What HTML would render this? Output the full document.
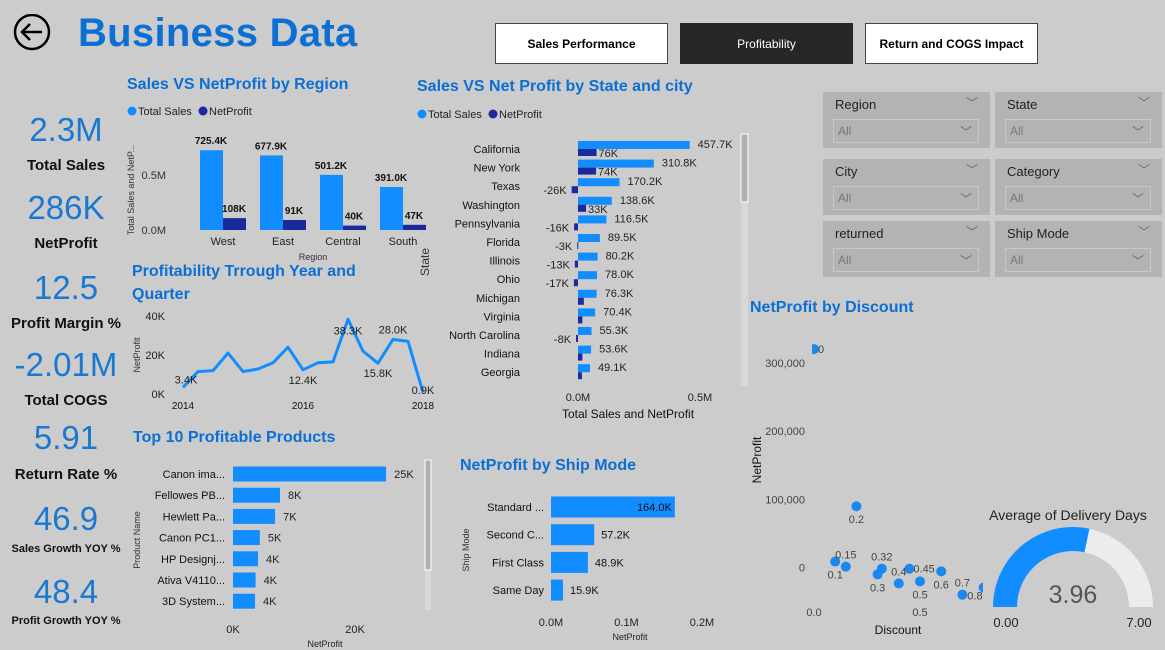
<!DOCTYPE html>
<html><head><meta charset="utf-8"><style>
body{margin:0;width:1165px;height:650px;overflow:hidden;background:#cccccc;font-family:"Liberation Sans",sans-serif;}
#root{position:relative;width:1165px;height:650px;}
.btn{position:absolute;top:23px;width:173px;height:41px;border:1px solid #444;background:#fff;font-size:12px;font-weight:bold;display:flex;align-items:center;justify-content:center;box-sizing:border-box;}
.kv{position:absolute;left:0;width:132px;text-align:center;color:#1a78d2;font-size:33px;}
.kl{position:absolute;left:0;width:132px;text-align:center;color:#111;font-weight:bold;font-size:15px;}
.sl{position:absolute;width:167px;height:56px;background:#b3b3b3;}
.sl .h{position:absolute;left:12px;top:5px;font-size:13px;color:#222;}
.sl .c1{position:absolute;right:12px;top:2px;font-size:12px;color:#666;}
.sl .box{position:absolute;left:10px;top:27px;width:146px;height:24px;border:1px solid #c8c8c8;box-sizing:border-box;}
.sl .box span{position:absolute;left:4px;top:4px;font-size:12px;color:#777;}
.sl .box i{position:absolute;right:6px;top:3px;font-style:normal;font-size:12px;color:#666;}
</style></head><body><div id="root">
<svg style="position:absolute;left:13px;top:14px" width="38" height="38"><circle cx="19" cy="18" r="17" fill="none" stroke="#000" stroke-width="2.5"/><path d="M29 18H10M17 10l-8 8 8 8" fill="none" stroke="#000" stroke-width="2.5"/></svg>
<div style="position:absolute;left:78px;top:11px;font-size:40px;font-weight:bold;color:#0b6fd4;letter-spacing:0.3px">Business Data</div>
<div class="btn" style="left:495px">Sales Performance</div>
<div class="btn" style="left:680px;background:#262626;color:#fff;font-weight:normal;border-color:#262626">Profitability</div>
<div class="btn" style="left:865px">Return and COGS Impact</div>

<div class="kv" style="top:111px">2.3M</div>
<div class="kl" style="top:157px">Total Sales</div>
<div class="kv" style="top:189px">286K</div>
<div class="kl" style="top:235px">NetProfit</div>
<div class="kv" style="top:269px">12.5</div>
<div class="kl" style="top:315px">Profit Margin %</div>
<div class="kv" style="top:346px">-2.01M</div>
<div class="kl" style="top:392px">Total COGS</div>
<div class="kv" style="top:419px">5.91</div>
<div class="kl" style="top:466px">Return Rate %</div>
<div class="kv" style="top:500px">46.9</div>
<div class="kl" style="top:543px;font-size:11px">Sales Growth YOY %</div>
<div class="kv" style="top:573px">48.4</div>
<div class="kl" style="top:615px;font-size:11px">Profit Growth YOY %</div>

<div class="sl" style="left:823px;top:92px"><span class="h">Region</span><span class="c1">﹀</span><div class="box"><span>All</span><i>﹀</i></div></div>
<div class="sl" style="left:995px;top:92px"><span class="h">State</span><span class="c1">﹀</span><div class="box"><span>All</span><i>﹀</i></div></div>
<div class="sl" style="left:823px;top:159px"><span class="h">City</span><span class="c1">﹀</span><div class="box"><span>All</span><i>﹀</i></div></div>
<div class="sl" style="left:995px;top:159px"><span class="h">Category</span><span class="c1">﹀</span><div class="box"><span>All</span><i>﹀</i></div></div>
<div class="sl" style="left:823px;top:221px"><span class="h">returned</span><span class="c1">﹀</span><div class="box"><span>All</span><i>﹀</i></div></div>
<div class="sl" style="left:995px;top:221px"><span class="h">Ship Mode</span><span class="c1">﹀</span><div class="box"><span>All</span><i>﹀</i></div></div>

<svg id="ch" style="position:absolute;left:0;top:0" width="1165" height="650" font-family="Liberation Sans, sans-serif"></svg>
</div>
<script>
// Region chart data
const regions=["West","East","Central","South"];
const regionSales=[725.4,677.9,501.2,391.0];
const regionProfit=[108,91,40,47];
const regionSalesLbl=["725.4K","677.9K","501.2K","391.0K"];
const regionProfitLbl=["108K","91K","40K","47K"];
// Line chart
const quarterProfit=[3.4,11.5,12,21,11.5,12.8,16,24,12.4,16,16.5,38.3,22,15.8,28,27,0.9];
const quarterLabels=["3.4K","","","","","","","","12.4K","","","38.3K","","15.8K","28.0K","","0.9K"];
const yearTicks=["2014","2016","2018"];
// State chart
const states=["California","New York","Texas","Washington","Pennsylvania","Florida","Illinois","Ohio","Michigan","Virginia","North Carolina","Indiana","Georgia"];
const stateSales=[457.7,310.8,170.2,138.6,116.5,89.5,80.2,78.0,76.3,70.4,55.3,53.6,49.1];
const stateProfit=[76,74,-26,33,-16,-3,-13,-17,24,18,-8,18,16];
const stateProfitShow=[1,1,1,1,1,1,1,1,0,0,1,0,0];
// Products
const products=["Canon ima...","Fellowes PB...","Hewlett Pa...","Canon PC1...","HP Designj...","Ativa V4110...","3D System..."];
const productProfit=[25.1,7.7,6.9,4.4,4.1,3.7,3.6];
const productLbl=["25K","8K","7K","5K","4K","4K","4K"];
// Ship mode
const shipModes=["Standard ...","Second C...","First Class","Same Day"];
const shipProfit=[164.0,57.2,48.9,15.9];
// Scatter
const discounts=[0,0.1,0.15,0.2,0.3,0.32,0.4,0.45,0.5,0.6,0.7,0.8];
const discProfit=[320,9,1.5,90,-9.7,-1.4,-23,-1.5,-20,-5.3,-39.5,-29];
const discLblPos=["r","b","a","b","b","a","a","r","b","b","a","l"];
// Gauge
const gaugeValue=3.96, gaugeMax=7;

const NS="http://www.w3.org/2000/svg", svg=document.getElementById('ch');
function mk(tag,a,txt,parent){const e=document.createElementNS(NS,tag);for(const k in a)e.setAttribute(k,a[k]);if(txt!==undefined)e.textContent=txt;(parent||svg).appendChild(e);return e;}
const BLUE="#118DFF",NAVY="#1a2a9c",TB="#0b6fd4";
let e;
e=mk('text',{x:127,y:89,'font-size':16,'font-weight':'bold',fill:TB},'Sales VS NetProfit by Region');


e=mk('text',{x:417,y:91,'font-size':16,'font-weight':'bold',fill:TB},'Sales VS Net Profit by State and city');


e=mk('text',{x:132,y:276,'font-size':16,'font-weight':'bold',fill:TB},'Profitability Trrough Year and');


e=mk('text',{x:132,y:299,'font-size':16,'font-weight':'bold',fill:TB},'Quarter');


e=mk('text',{x:133,y:442,'font-size':16,'font-weight':'bold',fill:TB},'Top 10 Profitable Products');


e=mk('text',{x:460,y:470,'font-size':16,'font-weight':'bold',fill:TB},'NetProfit by Ship Mode');


e=mk('text',{x:750,y:312,'font-size':16,'font-weight':'bold',fill:TB},'NetProfit by Discount');



function legend(x,y,name){
 e=mk('circle',{cx:x+4,cy:y-4,r:4.5,fill:BLUE});
 
 
 e=mk('text',{x:x+10,y:y,'font-size':11,fill:'#222'},'Total Sales');
 
 
 e=mk('circle',{cx:x+75,cy:y-4,r:4.5,fill:NAVY});
 
 
 e=mk('text',{x:x+81,y:y,'font-size':11,fill:'#222'},'NetProfit');
 
 
}
legend(128,115,'region');legend(418,118,'state');

// Region chart
const rY=v=>230-v*0.11, rX=i=>223+i*60;
[[0,'0.0M'],[500,'0.5M']].forEach(t=>{
 e=mk('text',{x:166,y:rY(t[0])+4,'font-size':11,fill:'#333','text-anchor':'end'},t[1]);
 
 
});
e=mk('text',{x:134,y:190,'font-size':9,fill:'#333','text-anchor':'middle',transform:'rotate(-90 134 190)'},'Total Sales and NetP...');


regions.forEach((r,i)=>{
 const cx=rX(i);
 e=mk('rect',{x:cx-23,y:rY(regionSales[i]),width:23,height:230-rY(regionSales[i]),fill:BLUE});
 
 
 e=mk('rect',{x:cx,y:rY(regionProfit[i]),width:23,height:230-rY(regionProfit[i]),fill:NAVY});
 
 
 e=mk('text',{x:cx-12,y:rY(regionSales[i])-6,'font-size':10,'font-weight':'bold',fill:'#111','text-anchor':'middle'},regionSalesLbl[i]);
 
 
 e=mk('text',{x:cx+11,y:rY(regionProfit[i])-6,'font-size':10,'font-weight':'bold',fill:'#111','text-anchor':'middle'},regionProfitLbl[i]);
 
 
 e=mk('text',{x:cx,y:245,'font-size':11,fill:'#222','text-anchor':'middle'},r);
 
 
});
e=mk('text',{x:313,y:260,'font-size':9,fill:'#333','text-anchor':'middle'},'Region');



// Line chart
const lY=v=>394-v*1.95, lX=i=>183+i*15;
[[0,'0K'],[20,'20K'],[40,'40K']].forEach(t=>{
 e=mk('text',{x:165,y:lY(t[0])+4,'font-size':11,fill:'#222','text-anchor':'end'},t[1]);
 
 
});
e=mk('text',{x:140,y:355,'font-size':9,fill:'#333','text-anchor':'middle',transform:'rotate(-90 140 355)'},'NetProfit');


yearTicks.forEach((t,i)=>{
 e=mk('text',{x:lX(i*8),y:409,'font-size':10,fill:'#111','text-anchor':'middle'},t);
 
 
});
e=mk('polyline',{points:quarterProfit.map((v,i)=>lX(i)+','+lY(v)).join(' '),fill:'none',stroke:BLUE,'stroke-width':3,'stroke-linejoin':'round'});


quarterLabels.forEach((l,i)=>{
 if(!l)return;
 const above=(i==11||i==14);
 e=mk('text',{x:lX(i)+(i==0?3:0),y:above?lY(quarterProfit[i])+15:lY(quarterProfit[i])+(i==16?2:-6)+(i==0?2:0)+(i==8||i==13?20:0),'font-size':11,fill:'#222','text-anchor':'middle'},l);
 if(i==14)e.setAttribute('y',lY(quarterProfit[i])-6);
 
 
});

// State chart
const sX=v=>578+v*0.244, sRow=i=>149+i*18.6;
states.forEach((s,i)=>{
 const cy=sRow(i);
 e=mk('text',{x:520,y:cy+4,'font-size':11,fill:'#111','text-anchor':'end'},s);
 
 
 e=mk('rect',{x:578,y:cy-8,width:sX(stateSales[i])-578,height:8,fill:BLUE});
 
 
 const p=stateProfit[i];
 e=mk('rect',{x:Math.min(578,sX(p)),y:cy,width:Math.max(1,Math.abs(sX(p)-578)),height:7,fill:NAVY});
 
 
 e=mk('text',{x:sX(stateSales[i])+8,y:cy-1,'font-size':11,fill:'#222'},stateSales[i].toFixed(1)+'K');
 
 
 if(stateProfitShow[i]){
  e=mk('text',{x:p>=0?sX(p)+2:sX(p)-5,y:cy+8,'font-size':11,fill:'#222','text-anchor':p>=0?'start':'end'},Math.round(p)+'K');
  
  
 }
});
[[0,'0.0M'],[500,'0.5M']].forEach(t=>{
 e=mk('text',{x:sX(t[0]),y:401,'font-size':11,fill:'#222','text-anchor':'middle'},t[1]);
 
 
});
e=mk('text',{x:628,y:418,'font-size':12,fill:'#111','text-anchor':'middle'},'Total Sales and NetProfit');


e=mk('text',{x:429,y:262,'font-size':12,fill:'#333','text-anchor':'middle',transform:'rotate(-90 429 262)'},'State');


e=mk('rect',{x:741,y:134,width:7,height:252,fill:'#d8d8d8'});


e=mk('rect',{x:741,y:134,width:7,height:68,fill:'#b0b0b0',stroke:'#fff','stroke-width':1});



// Products
const pX=v=>233+v*6.1, pRow=i=>474+i*21.2;
products.forEach((p,i)=>{
 const cy=pRow(i);
 e=mk('text',{x:225,y:cy+4,'font-size':11,fill:'#111','text-anchor':'end'},p);
 
 
 e=mk('rect',{x:233,y:cy-7.5,width:pX(productProfit[i])-233,height:15,fill:BLUE});
 
 
 e=mk('text',{x:pX(productProfit[i])+8,y:cy+4,'font-size':11,fill:'#222'},productLbl[i]);
 
 
});
[[0,'0K'],[20,'20K']].forEach(t=>{
 e=mk('text',{x:pX(t[0]),y:633,'font-size':11,fill:'#222','text-anchor':'middle'},t[1]);
 
 
});
e=mk('text',{x:325,y:647,'font-size':9,fill:'#222','text-anchor':'middle'},'NetProfit');


e=mk('text',{x:140,y:540,'font-size':9,fill:'#333','text-anchor':'middle',transform:'rotate(-90 140 540)'},'Product Name');


e=mk('rect',{x:425,y:460,width:6,height:150,fill:'#d8d8d8'});


e=mk('rect',{x:425,y:460,width:6,height:110,fill:'#b0b0b0',stroke:'#fff','stroke-width':1});



// Ship mode
const mX=v=>551+v*0.755, mRow=i=>507+i*27.7;
shipModes.forEach((m,i)=>{
 const cy=mRow(i);
 e=mk('text',{x:544,y:cy+4,'font-size':11,fill:'#111','text-anchor':'end'},m);
 
 
 e=mk('rect',{x:551,y:cy-10.5,width:mX(shipProfit[i])-551,height:21,fill:BLUE});
 
 
 const inside=i==0;
 e=mk('text',{x:inside?mX(shipProfit[i])-3:mX(shipProfit[i])+7,y:cy+4,'font-size':11,fill:'#111','text-anchor':inside?'end':'start'},shipProfit[i].toFixed(1)+'K');
 
 
});
[[0,'0.0M'],[100,'0.1M'],[200,'0.2M']].forEach(t=>{
 e=mk('text',{x:mX(t[0]),y:626,'font-size':11,fill:'#222','text-anchor':'middle'},t[1]);
 
 
});
e=mk('text',{x:630,y:640,'font-size':9,fill:'#222','text-anchor':'middle'},'NetProfit');


e=mk('text',{x:469,y:550,'font-size':9,fill:'#333','text-anchor':'middle',transform:'rotate(-90 469 550)'},'Ship Mode');



// Scatter
const dX=v=>814+v*212, dY=v=>567.7-v*0.683;
[[0,'0'],[100,'100,000'],[200,'200,000'],[300,'300,000']].forEach(t=>{
 e=mk('text',{x:805,y:dY(t[0])+4,'font-size':11,fill:'#444','text-anchor':'end'},t[1]);
 
 
});
[[0,'0.0'],[0.5,'0.5']].forEach(t=>{
 e=mk('text',{x:dX(t[0]),y:616,'font-size':11,fill:'#444','text-anchor':'middle'},t[1]);
 
 
});
e=mk('text',{x:898,y:634,'font-size':12,fill:'#111','text-anchor':'middle'},'Discount');


e=mk('text',{x:761,y:460,'font-size':12,fill:'#111','text-anchor':'middle',transform:'rotate(-90 761 460)'},'NetProfit');


const cp=mk('clipPath',{id:'scClip'});mk('rect',{x:812,y:320,width:171,height:300},undefined,cp);
const sg=mk('g',{'clip-path':'url(#scClip)'});
discounts.forEach((d,i)=>{
 e=mk('circle',{cx:dX(d),cy:dY(discProfit[i]),r:5,fill:'#1a88f0'},undefined,sg);
 
 
});
discounts.forEach((d,i)=>{
 const x=dX(d),y=dY(discProfit[i]),pos=discLblPos[i];
 e=mk('text',{x:pos=='r'?x+4:pos=='l'?x-1:x,y:pos=='a'?y-8:pos=='b'?y+17:pos=='l'?y+12:y+4,'font-size':11,fill:'#444','text-anchor':pos=='r'?'start':pos=='l'?'end':'middle'},String(d));
 
 
});

// Gauge
const gcx=1073,gcy=607,ro=80,ri=56;
function arc(a0,a1){const p=(a,r)=>[gcx-r*Math.cos(a),gcy-r*Math.sin(a)];
 const [x0,y0]=p(a0,ro),[x1,y1]=p(a1,ro),[x2,y2]=p(a1,ri),[x3,y3]=p(a0,ri);
 return `M${x0},${y0}A${ro},${ro} 0 0 1 ${x1},${y1}L${x2},${y2}A${ri},${ri} 0 0 0 ${x3},${y3}Z`;}
const fr=gaugeValue/gaugeMax*Math.PI;
e=mk('path',{d:arc(fr,Math.PI),fill:'#ececec'});


e=mk('path',{d:arc(0,fr),fill:'#118DFF'});


e=mk('text',{x:1068,y:520,'font-size':14,fill:'#222','text-anchor':'middle'},'Average of Delivery Days');


e=mk('text',{x:1073,y:603,'font-size':25,fill:'#555','text-anchor':'middle'},gaugeValue.toFixed(2));


e=mk('text',{x:1006,y:627,'font-size':13,fill:'#222','text-anchor':'middle'},'0.00');


e=mk('text',{x:1139,y:627,'font-size':13,fill:'#222','text-anchor':'middle'},gaugeMax.toFixed(2));


</script></body></html>
